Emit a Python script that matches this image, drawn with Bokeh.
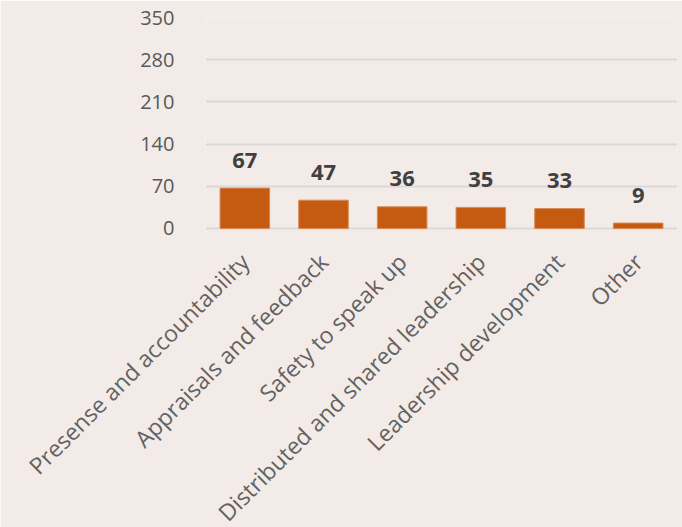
import math
from bokeh.plotting import figure
from bokeh.models import ColumnDataSource, Range1d, FixedTicker
from bokeh.core.properties import value
from bokeh.embed import file_html
from bokeh.resources import INLINE

categories = ["Presense and accountability", "Appraisals and feedback", "Safety to speak up",
              "Distributed and shared leadership", "Leadership development", "Other"]
counts = [67, 47, 36, 35, 33, 9]
y_ticks = [0, 70, 140, 210, 280, 350]

BG = "#f2ebe8"
src = ColumnDataSource(dict(cat=categories, val=counts, lab=[str(v) for v in counts],
                            zero=[0] * len(counts)))

# frame runs to the bottom of the canvas so the rotated category labels can sit below 0
p = figure(x_range=categories, y_range=Range1d(-496, 350), width=682, height=527,
           output_backend="svg", toolbar_location=None,
           min_border_left=205, min_border_right=5, min_border_top=17, min_border_bottom=0)
p.background_fill_color = BG
p.border_fill_color = BG
p.outline_line_color = None

p.vbar(x="cat", top="val", width=0.63, source=src, fill_color="#c55a11", line_color="#d98a55", line_width=1)
p.text(x="cat", y="val", text="lab", source=src, text_align="center", text_baseline="alphabetic",
       y_offset=-28, text_font=value("Open Sans"), text_font_style="bold", text_font_size="22px",
       text_color="#404040")

# category labels, rotated 45 degrees (overlay level so they are not clipped to the frame)
p.text(x="cat", y="zero", text="cat", source=src, angle=math.pi / 4,
       text_align="right", text_baseline="middle", x_offset=0, y_offset=29,
       text_font=value("Open Sans"), text_font_size="23px", text_color="#626262",
       level="overlay")

p.yaxis.ticker = FixedTicker(ticks=y_ticks)
p.yaxis.axis_line_color = None
p.yaxis.major_tick_line_color = None
p.yaxis.minor_tick_line_color = None
p.yaxis.major_label_text_font = "Open Sans"
p.yaxis.major_label_text_font_size = "20px"
p.yaxis.major_label_text_color = "#595959"
p.yaxis.major_label_standoff = 25

p.xaxis.visible = False

p.xgrid.grid_line_color = None
p.ygrid.grid_line_color = "#d9d9d9"
p.ygrid.grid_line_width = 2

open("out.html", "w").write(file_html(p, INLINE))
